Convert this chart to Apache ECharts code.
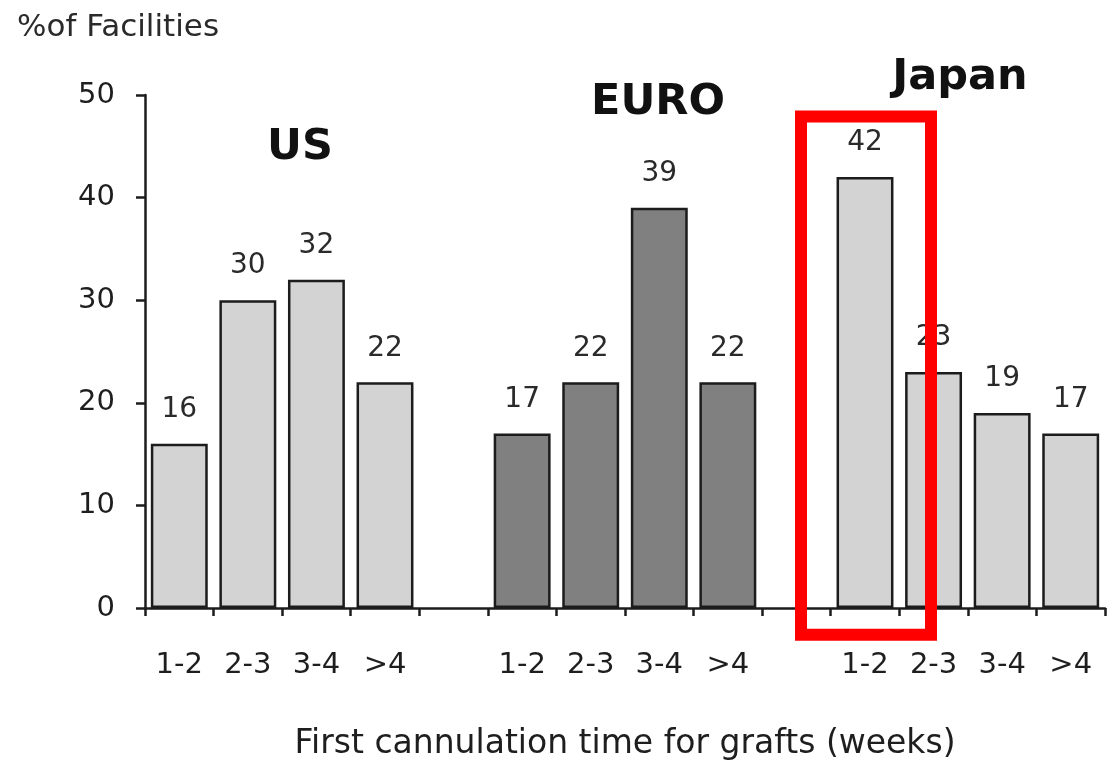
<!DOCTYPE html>
<html>
<head>
<meta charset="utf-8">
<script src="https://cdn.jsdelivr.net/npm/echarts@6/dist/echarts.min.js"></script>
<style>
  html, body { margin: 0; padding: 0; background: #ffffff; }
  #chart { width: 1107px; height: 761px; }
</style>
</head>
<body>
<div id="chart"></div>
<script>
// Week ranges for each region, with an empty slot between regions
const categories = ['1-2', '2-3', '3-4', '>4', '', '1-2', '2-3', '3-4', '>4', '', '1-2', '2-3', '3-4', '>4'];
const usValues = [16, 30, 32, 22];
const euroValues = [17, 22, 39, 22];
const japanValues = [42, 23, 19, 17];
const regionNames = ['US', 'EURO', 'Japan'];
const yTicks = [0, 10, 20, 30, 40, 50];

const FONT = '"DejaVu Sans", Verdana, sans-serif';

// Place a region's four values at its slot offset, leaving the rest empty
function slotted(values, offset) {
  const out = categories.map(() => '-');
  values.forEach((v, i) => { out[offset + i] = v; });
  return out;
}

function barSeries(name, values, offset, fill) {
  return {
    name: name,
    type: 'bar',
    data: slotted(values, offset),
    barCategoryGap: '17%',
    barGap: '-100%',
    itemStyle: { color: fill, borderColor: '#1c1c1c', borderWidth: 2.5 },
    label: {
      show: true,
      position: 'top',
      distance: 20,
      color: '#2a2a2a',
      fontFamily: FONT,
      fontSize: 28
    }
  };
}

const chart = echarts.init(document.getElementById('chart'), null, { renderer: 'canvas' });

chart.setOption({
  animation: false,
  backgroundColor: '#ffffff',
  title: {
    text: '%of Facilities',
    left: 12,
    top: 7,
    textStyle: { fontFamily: FONT, fontSize: 31, fontWeight: 'normal', color: '#2a2a2a' }
  },
  grid: { left: 145, right: 2, top: 95, bottom: 153, containLabel: false, outerBoundsMode: 'none' },
  xAxis: {
    type: 'category',
    data: categories,
    name: 'First cannulation time for grafts (weeks)',
    nameLocation: 'middle',
    nameGap: 120,
    nameTextStyle: { fontFamily: FONT, fontSize: 33, color: '#1e1e1e' },
    axisLine: { lineStyle: { color: '#1c1c1c', width: 2.5 } },
    axisTick: { show: true, length: 8, lineStyle: { color: '#1c1c1c', width: 2.5 } },
    axisLabel: { margin: 43, fontFamily: FONT, fontSize: 29, color: '#1e1e1e', interval: 0 }
  },
  yAxis: {
    type: 'value',
    min: yTicks[0],
    max: yTicks[yTicks.length - 1],
    interval: 10,
    splitLine: { show: false },
    axisLine: { show: true, lineStyle: { color: '#1c1c1c', width: 2.5 } },
    axisTick: { show: true, length: 9, lineStyle: { color: '#1c1c1c', width: 2.5 } },
    axisLabel: { margin: 30, fontFamily: FONT, fontSize: 29, color: '#1e1e1e' }
  },
  series: [
    barSeries('US', usValues, 0, '#d3d3d3'),
    barSeries('EURO', euroValues, 5, '#808080'),
    barSeries('Japan', japanValues, 10, '#d3d3d3')
  ]
});

// Region headings and the highlight frame around Japan's 1-2 week bar
const titleStyle = { fontFamily: FONT, fontSize: 43, fontWeight: 'bold', fill: '#111111' };
const highlightX = chart.convertToPixel({ xAxisIndex: 0 }, 10);
const frameTop = chart.convertToPixel({ yAxisIndex: 0 }, 47.9);
const frameBottom = chart.convertToPixel({ yAxisIndex: 0 }, -2.6);

chart.setOption({
  graphic: [
    { type: 'text', x: 300, y: 148, z: 50,
      style: Object.assign({ text: regionNames[0], align: 'center', verticalAlign: 'middle' }, titleStyle) },
    { type: 'text', x: 658, y: 103, z: 50,
      style: Object.assign({ text: regionNames[1], align: 'center', verticalAlign: 'middle' }, titleStyle) },
    { type: 'text', x: 960, y: 78, z: 50,
      style: Object.assign({ text: regionNames[2], align: 'center', verticalAlign: 'middle' }, titleStyle) },
    { type: 'rect', z: 100,
      shape: { x: highlightX - 64, y: frameTop, width: 130, height: frameBottom - frameTop },
      style: { fill: 'none', stroke: '#ff0000', lineWidth: 12 } }
  ]
});
</script>
</body>
</html>
